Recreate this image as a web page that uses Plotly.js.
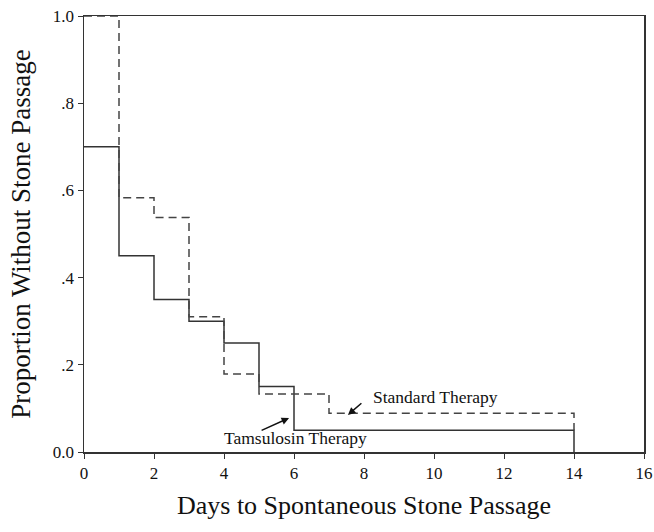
<!DOCTYPE html>
<html>
<head>
<meta charset="utf-8">
<script src="https://cdn.plot.ly/plotly-3.0.1.min.js"></script>
<style>html,body{margin:0;padding:0;background:#fff;}#chart{width:654px;height:532px;}</style>
</head>
<body>
<div id="chart"></div>
<script>
// Tamsulosin therapy (solid) step curve
const tamsulosinDays = [0, 1, 2, 3, 4, 5, 6, 14, 14];
const tamsulosinProp = [0.70, 0.45, 0.35, 0.30, 0.25, 0.15, 0.05, 0.05, 0.0];
// Standard therapy (dashed) step curve
const standardDays = [0, 1, 2, 3, 4, 5, 7, 14, 14];
const standardProp = [1.0, 0.583, 0.538, 0.31, 0.179, 0.133, 0.089, 0.089, 0.05];

const xTickVals = [0, 2, 4, 6, 8, 10, 12, 14, 16];
const yTickVals = [0, 0.2, 0.4, 0.6, 0.8, 1.0];
const yTickText = ['0.0', '.2', '.4', '.6', '.8', '1.0'];

const serif = 'Liberation Serif, Times New Roman, serif';
const lineCol = '#333';

const traces = [
  {x: tamsulosinDays, y: tamsulosinProp, mode: 'lines', line: {shape: 'hv', color: lineCol, width: 1.5}, name: 'Tamsulosin Therapy'},
  {x: standardDays, y: standardProp, mode: 'lines', line: {shape: 'hv', color: '#444', width: 1.5, dash: '8px,5px'}, name: 'Standard Therapy'}
];

const layout = {
  width: 654, height: 532,
  margin: {l: 84, r: 10, t: 16, b: 80},
  paper_bgcolor: '#fff', plot_bgcolor: '#fff',
  showlegend: false,
  font: {family: serif, color: '#111'},
  xaxis: {
    range: [0, 16], tickvals: xTickVals, ticks: 'outside', ticklen: 5, tickcolor: lineCol,
    showgrid: false, zeroline: false, showline: true, mirror: true, linecolor: lineCol, linewidth: 1.5,
    tickfont: {size: 17, family: serif, color: '#111'},
    title: {text: 'Days to Spontaneous Stone Passage', font: {size: 26, family: serif, color: '#111'}, standoff: 14}
  },
  yaxis: {
    range: [0, 1], tickvals: yTickVals, ticktext: yTickText, ticks: 'outside', ticklen: 5, tickcolor: lineCol,
    showgrid: false, zeroline: false, showline: true, mirror: true, linecolor: lineCol, linewidth: 1.5,
    tickfont: {size: 17, family: serif, color: '#111'},
    title: {text: 'Proportion Without Stone Passage', font: {size: 27, family: serif, color: '#111'}, standoff: 14}
  },
  annotations: [
    {x: 7.54, y: 0.085, ax: 15, ay: -13, text: '', showarrow: true, arrowhead: 2, arrowsize: 1, arrowwidth: 1.5, arrowcolor: '#111'},
    {x: 5.86, y: 0.078, ax: -29, ay: 13, text: '', showarrow: true, arrowhead: 2, arrowsize: 1, arrowwidth: 1.5, arrowcolor: '#111'},
    {x: 10.03, y: 0.126, text: 'Standard Therapy', showarrow: false, font: {size: 17.5, family: serif, color: '#111'}},
    {x: 6.03, y: 0.032, text: 'Tamsulosin Therapy', showarrow: false, font: {size: 17.5, family: serif, color: '#111'}}
  ]
};

Plotly.newPlot('chart', traces, layout, {displayModeBar: false, staticPlot: true});
</script>
</body>
</html>
